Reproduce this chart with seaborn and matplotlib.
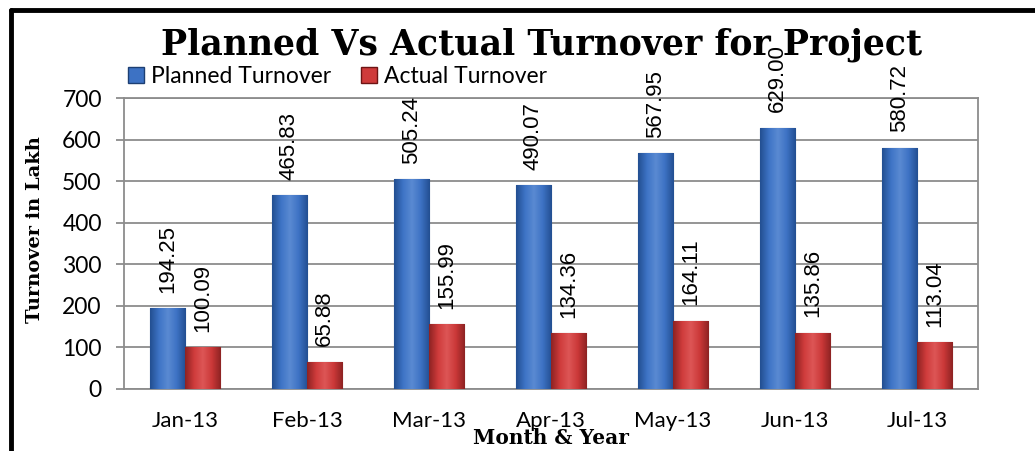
import numpy as np
import pandas as pd
import seaborn as sns
import matplotlib.pyplot as plt
from matplotlib.colors import LinearSegmentedColormap
from matplotlib.lines import Line2D

months = ['Jan-13', 'Feb-13', 'Mar-13', 'Apr-13', 'May-13', 'Jun-13', 'Jul-13']
planned = [194.25, 465.83, 505.24, 490.07, 567.95, 629.00, 580.72]
actual = [100.09, 65.88, 155.99, 134.36, 164.11, 135.86, 113.04]
series = ['Planned Turnover', 'Actual Turnover']

df = pd.DataFrame({
    'month': months * 2,
    'value': planned + actual,
    'series': [series[0]] * len(months) + [series[1]] * len(months),
})

sns.set_style('white')
plt.rcParams['font.family'] = ['Lato', 'DejaVu Sans']
plt.rcParams['text.color'] = 'black'
plt.rcParams['xtick.labelcolor'] = 'black'
plt.rcParams['ytick.labelcolor'] = 'black'

fig = plt.figure(figsize=(10.35, 4.51), dpi=100)
ax = fig.add_axes([0.1198, 0.1375, 0.8252, 0.6452])

colors = {'Planned Turnover': '#3d72c4', 'Actual Turnover': '#cf3b3b'}
edges = {'Planned Turnover': '#1d3f73', 'Actual Turnover': '#6e1414'}
grads = {
    'Planned Turnover': ['#234f92', '#3e74c6', '#5a8ad2', '#3d72c4', '#234f92'],
    'Actual Turnover': ['#8e2323', '#cf3b3b', '#dd5656', '#cb3838', '#8e2323'],
}

sns.barplot(data=df, x='month', y='value', hue='series', palette=colors,
            width=0.58, gap=0, ax=ax, legend=False, zorder=3)

ax.set_ylim(0, 700)
ax.set_yticks(range(0, 701, 100))
ax.yaxis.grid(True, color='#8c8c8c', linewidth=1.3, zorder=0)
ax.set_axisbelow(True)
for s in ax.spines.values():
    s.set_color('#8c8c8c')
    s.set_linewidth(1.3)

xlim = ax.get_xlim()
n = len(months)
for i, p in enumerate(ax.patches[:2 * n]):
    name = series[i // n]
    p.set_edgecolor(edges[name])
    p.set_linewidth(0.8)
    x0, y0 = p.get_x(), p.get_y()
    w, h = p.get_width(), p.get_height()
    cmap = LinearSegmentedColormap.from_list(name, grads[name])
    im = ax.imshow(np.linspace(0, 1, 64).reshape(1, -1), cmap=cmap, aspect='auto',
                   extent=(x0, x0 + w, y0, y0 + h), zorder=3.5, interpolation='bilinear')
    im.set_clip_path(p)
    ax.annotate(f'{h:.2f}', (x0 + w / 2, h), xytext=(0, 11), textcoords='offset points',
                rotation=90, ha='center', va='bottom', fontsize=16,
                family='Liberation Sans', zorder=5, annotation_clip=False)
ax.set_xlim(xlim)
ax.set_ylim(0, 700)

ax.set_xlabel('')
ax.set_ylabel('')
ax.tick_params(axis='x', length=0, pad=16, labelsize=16)
ax.tick_params(axis='y', length=6, color='#8c8c8c', width=1.3, pad=10, labelsize=16.5, left=True)

fig.text(0.034, 0.49, 'Turnover in Lakh', rotation=90, ha='center', va='center',
         family='DejaVu Serif', weight='bold', fontsize=14)
fig.text(0.532, 0.028, 'Month & Year', ha='center', va='center',
         family='DejaVu Serif', weight='bold', fontsize=14.5)
fig.text(0.523, 0.9, 'Planned Vs Actual Turnover for Project', ha='center', va='center',
         family='DejaVu Serif', weight='bold', fontsize=25)

handles = [plt.Rectangle((0, 0), 1, 1, facecolor=colors[s], edgecolor=edges[s]) for s in series]
fig.legend(handles, series, loc='center left', bbox_to_anchor=(0.124, 0.831), ncol=2,
           frameon=False, fontsize=16.5, handlelength=0.7, handleheight=0.7,
           handletextpad=0.3, columnspacing=1.3, borderaxespad=0, borderpad=0)

# frame around the chart (top and left visible)
fig.add_artist(Line2D([0.011, 1.0], [0.978, 0.978], color='black', linewidth=3.5,
                      transform=fig.transFigure))
fig.add_artist(Line2D([0.011, 0.011], [0.0, 0.978], color='black', linewidth=3.5,
                      transform=fig.transFigure))

fig.savefig('out.png', dpi=100)
